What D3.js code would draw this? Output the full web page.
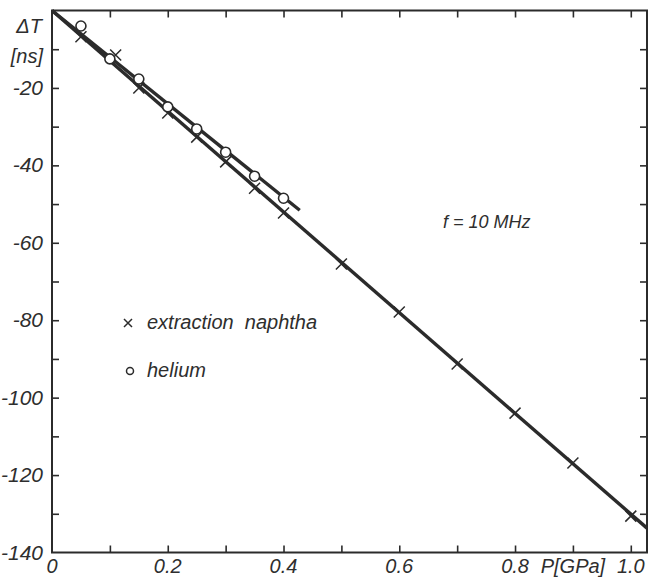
<!DOCTYPE html>
<html>
<head>
<meta charset="utf-8">
<script src="https://cdn.jsdelivr.net/npm/d3@7"></script>
<style>
  body { margin: 0; background: #fff; }
  svg text { font-family: "Liberation Sans Narrow", "Liberation Sans", sans-serif; font-style: italic; fill: #2e2e2e; }
  .tick text { display: none; }
</style>
</head>
<body>
<div id="chart"></div>
<script>
var w = 653, h = 578;

// data: P [GPa] vs delta T [ns]
var naphthaP  = [0.05, 0.11, 0.15, 0.2, 0.25, 0.3, 0.35, 0.4, 0.5, 0.6, 0.7, 0.8, 0.9, 1.0];
var naphthaDT = [-6.8, -11.5, -20.0, -26.5, -32.7, -39.1, -45.9, -52.3, -65.5, -77.9, -91.3, -104.0, -116.9, -130.6];
var heliumP   = [0.05, 0.1, 0.15, 0.2, 0.25, 0.3, 0.35, 0.4];
var heliumDT  = [-4.0, -12.5, -17.7, -24.9, -30.6, -36.6, -42.8, -48.5];

// fitted straight lines (end points)
var naphthaFit = [[0, 0], [1.028, -133.7]];
var heliumFit  = [[0, 0], [0.428, -51.6]];

var xTicks = [0.1, 0.2, 0.3, 0.4, 0.5, 0.6, 0.7, 0.8, 0.9, 1.0];
var yTicks = [-10, -20, -30, -40, -50, -60, -70, -80, -90, -100, -110, -120, -130];
var xLabelVals = [0, 0.2, 0.4, 0.6, 0.8, 0.9, 1.0];
var xLabelText = ["0", "0.2", "0.4", "0.6", "0.8", "P[GPa]", "1.0"];
var yLabelVals = [-20, -40, -60, -80, -100, -120, -140];
var legendText = ["extraction  naphtha", "helium"];

var x = d3.scaleLinear().domain([0, 1.028]).range([52, 647]),
    y = d3.scaleLinear().domain([0, -140]).range([10.5, 552.5]);

var ink = "#2b2b2b";

var svg = d3.select("#chart").append("svg")
    .attr("width", w)
    .attr("height", h);

// axes with inward ticks on all four sides
function axisStyle(g) {
  g.select(".domain").remove();
  g.selectAll(".tick line").attr("stroke", ink).attr("stroke-width", 1.6);
}
svg.append("g").attr("transform", "translate(0," + y(-140) + ")")
    .call(d3.axisBottom(x).tickValues(xTicks).tickSize(-7)).call(axisStyle);
svg.append("g").attr("transform", "translate(0," + y(0) + ")")
    .call(d3.axisTop(x).tickValues(xTicks).tickSize(-7)).call(axisStyle);
svg.append("g").attr("transform", "translate(" + x(0) + ",0)")
    .call(d3.axisLeft(y).tickValues(yTicks).tickSize(-7)).call(axisStyle);
svg.append("g").attr("transform", "translate(" + x(1.028) + ",0)")
    .call(d3.axisRight(y).tickValues(yTicks).tickSize(-7)).call(axisStyle);

svg.append("rect")
    .attr("x", x(0)).attr("y", y(0))
    .attr("width", x(1.028) - x(0)).attr("height", y(-140) - y(0))
    .attr("fill", "none").attr("stroke", ink).attr("stroke-width", 2);

// tick labels
svg.selectAll(".xl").data(xLabelVals).enter().append("text")
    .attr("class", "xl")
    .attr("x", function(d) { return x(d); })
    .attr("y", 573)
    .attr("text-anchor", "middle")
    .style("font-size", "20px")
    .text(function(d, i) { return xLabelText[i]; });

svg.selectAll(".yl").data(yLabelVals).enter().append("text")
    .attr("class", "yl")
    .attr("x", 43)
    .attr("y", function(d) { return y(d) + 7; })
    .attr("text-anchor", "end")
    .style("font-size", "21px")
    .text(function(d) { return d; });

svg.append("text").attr("x", 42).attr("y", 33).attr("text-anchor", "end")
    .style("font-size", "20px").text("\u0394T");
svg.append("text").attr("x", 43).attr("y", 63).attr("text-anchor", "end")
    .style("font-size", "20px").text("[ns]");

// fitted lines
var line = d3.line().x(function(d) { return x(d[0]); }).y(function(d) { return y(d[1]); });
[naphthaFit, heliumFit].forEach(function(f) {
  svg.append("path").attr("d", line(f))
      .attr("fill", "none").attr("stroke", ink).attr("stroke-width", 3.4);
});

// markers
function cross(g, cx, cy, r) {
  g.append("path")
      .attr("d", "M" + (cx - r) + "," + (cy - r) + "L" + (cx + r) + "," + (cy + r) +
                 "M" + (cx - r) + "," + (cy + r) + "L" + (cx + r) + "," + (cy - r))
      .attr("stroke", ink).attr("stroke-width", 1.5).attr("fill", "none");
}
var marks = svg.append("g");
naphthaP.forEach(function(p, i) { cross(marks, x(p), y(naphthaDT[i]), 5.5); });
marks.selectAll("circle").data(heliumP).enter().append("circle")
    .attr("cx", function(d) { return x(d); })
    .attr("cy", function(d, i) { return y(heliumDT[i]); })
    .attr("r", 5)
    .attr("fill", "#fff").attr("stroke", ink).attr("stroke-width", 1.6);

// legend
cross(svg, 128, 323, 4);
svg.append("circle").attr("cx", 130).attr("cy", 371).attr("r", 3.5)
    .attr("fill", "#fff").attr("stroke", ink).attr("stroke-width", 1.5);
svg.selectAll(".lg").data(legendText).enter().append("text")
    .attr("class", "lg")
    .attr("x", 147)
    .attr("y", function(d, i) { return 329 + i * 48; })
    .style("font-size", "20px")
    .style("white-space", "pre")
    .attr("xml:space", "preserve")
    .text(function(d) { return d; });

svg.append("text").attr("x", 443).attr("y", 228)
    .style("font-size", "18px").text("f = 10 MHz");
</script>
</body>
</html>
